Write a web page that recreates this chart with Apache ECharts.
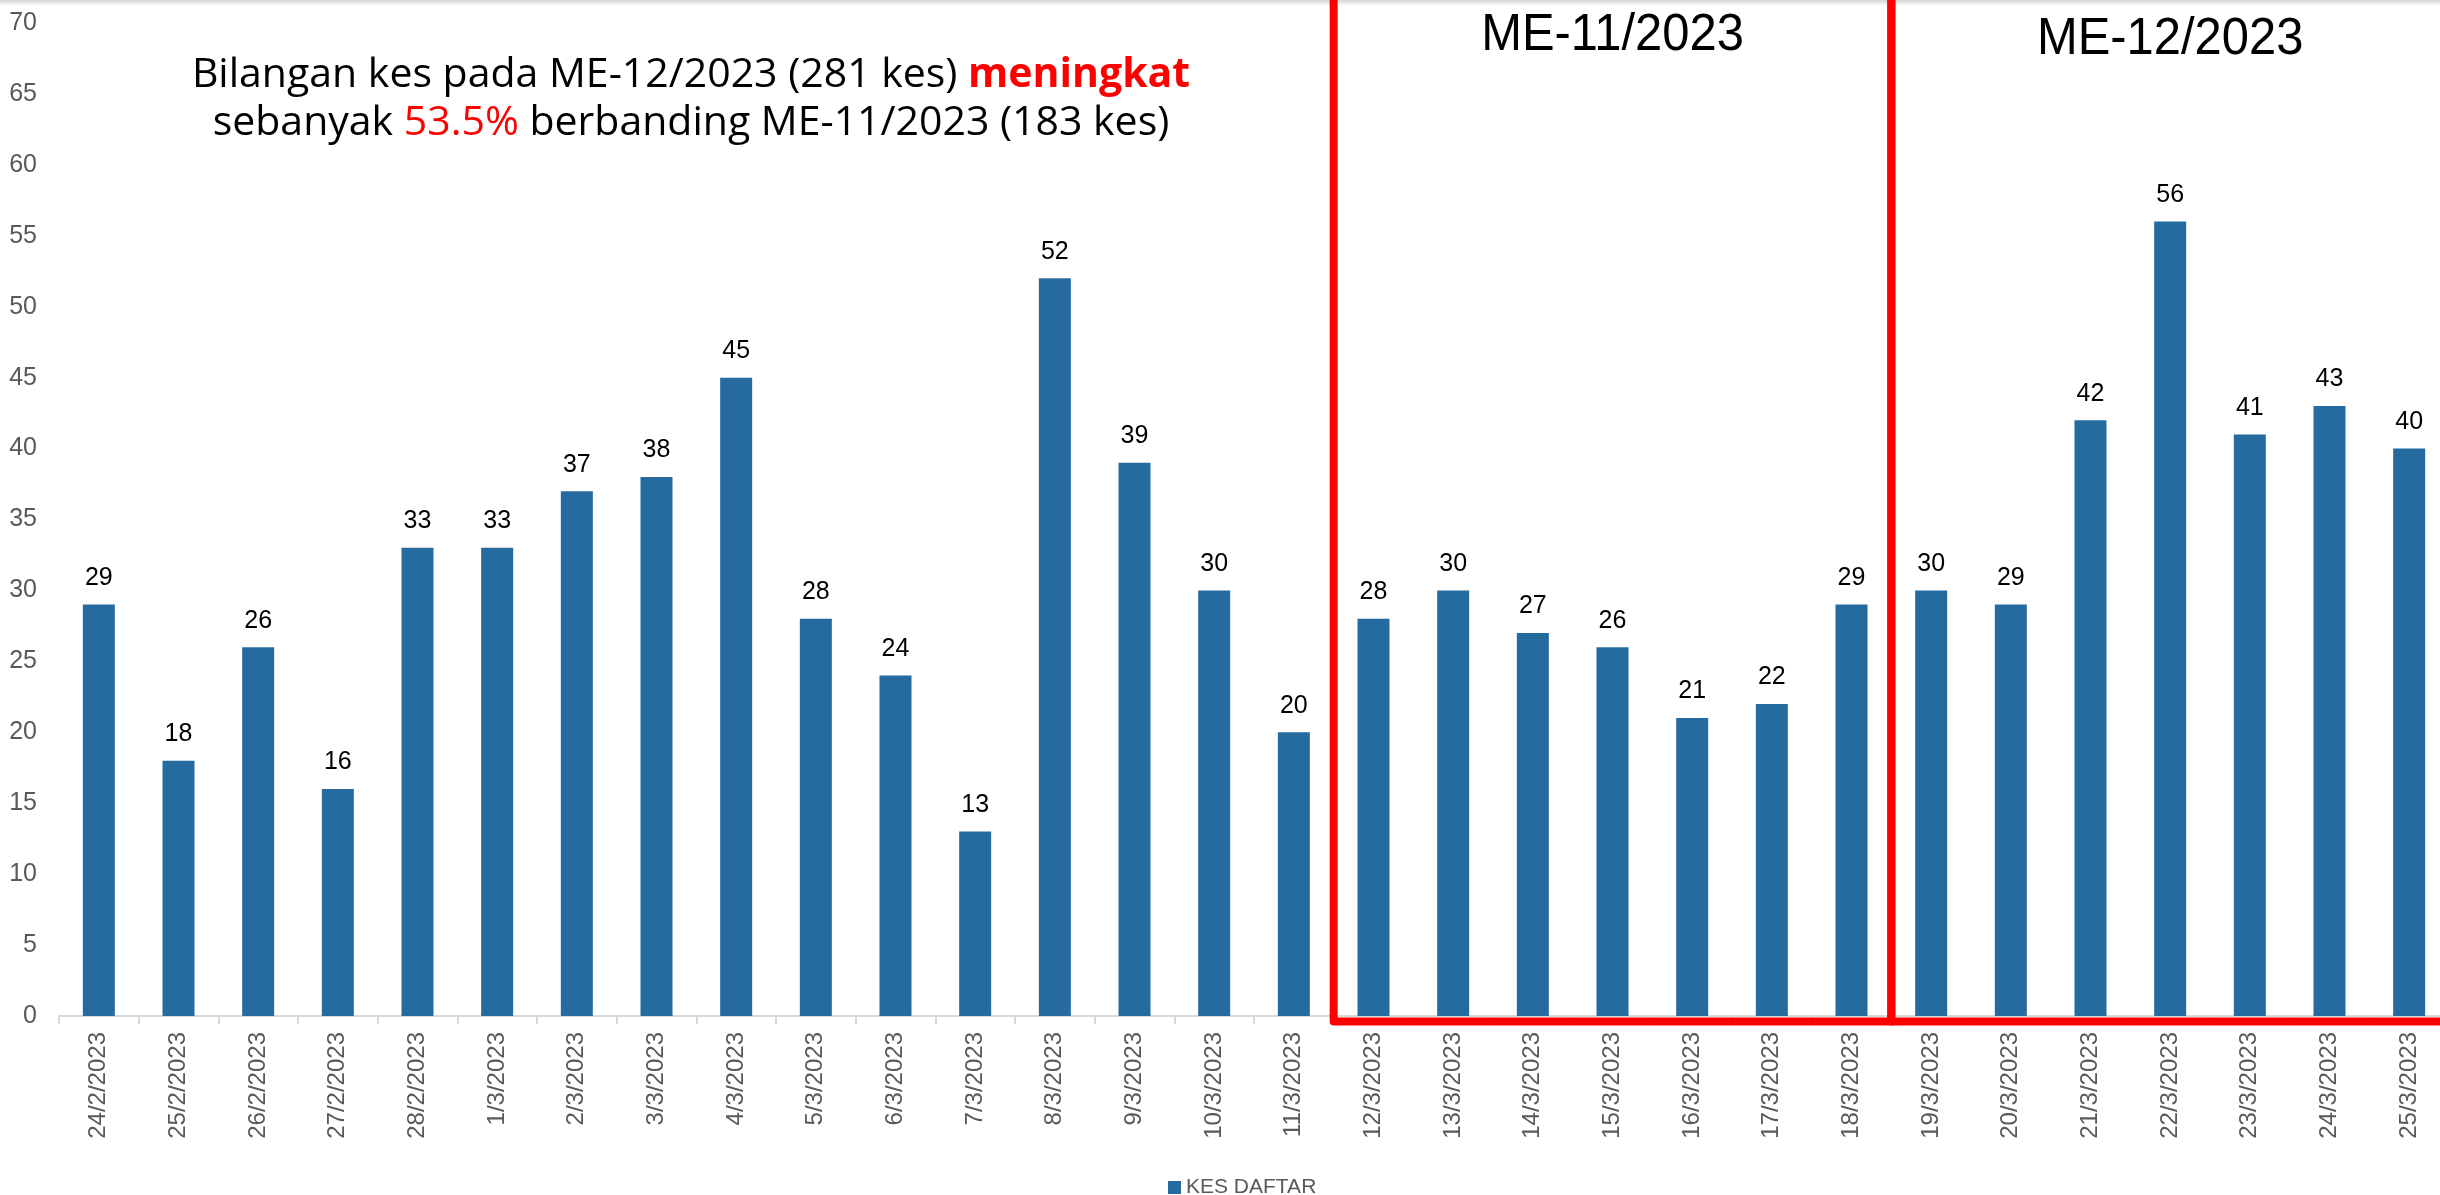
<!DOCTYPE html>
<html>
<head>
<meta charset="utf-8">
<script src="https://cdn.jsdelivr.net/npm/echarts@6/dist/echarts.min.js"></script>
<style>html,body{margin:0;padding:0;background:#fff;}#c{width:2440px;height:1195px;}</style>
</head>
<body>
<div id="c"></div>
<script>
const categories = ['24/2/2023','25/2/2023','26/2/2023','27/2/2023','28/2/2023','1/3/2023','2/3/2023','3/3/2023','4/3/2023','5/3/2023','6/3/2023','7/3/2023','8/3/2023','9/3/2023','10/3/2023','11/3/2023','12/3/2023','13/3/2023','14/3/2023','15/3/2023','16/3/2023','17/3/2023','18/3/2023','19/3/2023','20/3/2023','21/3/2023','22/3/2023','23/3/2023','24/3/2023','25/3/2023'];
const kesDaftar = [29,18,26,16,33,33,37,38,45,28,24,13,52,39,30,20,28,30,27,26,21,22,29,30,29,42,56,41,43,40];
const yTicks = {min: 0, max: 70, interval: 5};
const periods = [
  {label: 'ME-11/2023', from: '12/3/2023', to: '18/3/2023'},
  {label: 'ME-12/2023', from: '19/3/2023', to: '25/3/2023'}
];
const seriesName = 'KES DAFTAR';

const boxBottom = -0.39, boxTop = 72;
const boxData = periods.map(p => [categories.indexOf(p.from) - 0.5, categories.indexOf(p.to) + 0.5]);

const chart = echarts.init(document.getElementById('c'));
chart.setOption({
  animation: false,
  backgroundColor: '#ffffff',
  graphic: [{
    type: 'rect', left: 0, top: 0, silent: true,
    shape: {width: 2440, height: 6},
    style: {fill: new echarts.graphic.LinearGradient(0, 0, 0, 1, [{offset: 0, color: '#d6d6d6'}, {offset: 1, color: '#ffffff'}])}
  }],
  title: {
    left: 686, top: 46, textAlign: 'center',
    text: '{a|Bilangan kes pada ME-12/2023 (281 kes) }{r|meningkat}\n{a|sebanyak }{p|53.5%}{a| berbanding ME-11/2023 (183 kes)}',
    textStyle: {
      rich: {
        a: {fontSize: 41, fontFamily: 'Open Sans', fontWeight: 'normal', color: '#000', lineHeight: 48},
        r: {fontSize: 41, fontFamily: 'Open Sans', color: '#ff0000', fontWeight: 'bold', lineHeight: 48},
        p: {fontSize: 41, fontFamily: 'Open Sans', fontWeight: 'normal', color: '#ff0000', lineHeight: 48}
      }
    }
  },
  legend: {
    data: [seriesName], left: 1163, top: 1172,
    itemWidth: 13, itemHeight: 13, icon: 'rect',
    textStyle: {fontSize: 21, color: '#595959', fontFamily: 'Liberation Sans'}
  },
  grid: {left: 59, right: -9, top: 23, bottom: 179, containLabel: false, outerBoundsMode: 'none'},
  xAxis: [{
    type: 'category', data: categories,
    axisLine: {lineStyle: {color: '#d9d9d9', width: 2}},
    axisTick: {show: true, length: 8, lineStyle: {color: '#d9d9d9', width: 2}},
    axisLabel: {interval: 0, rotate: 90, fontSize: 24, color: '#595959', margin: 16, fontFamily: 'Liberation Sans'}
  }, {
    type: 'value', min: -0.5, max: categories.length - 0.5, show: false
  }],
  yAxis: {
    type: 'value', min: yTicks.min, max: yTicks.max, interval: yTicks.interval,
    axisLine: {show: false}, axisTick: {show: false}, splitLine: {show: false},
    axisLabel: {fontSize: 25, color: '#595959', margin: 22, fontFamily: 'Liberation Sans'}
  },
  series: [{
    name: seriesName, type: 'bar', data: kesDaftar, barWidth: 32,
    itemStyle: {color: '#256ba0'},
    label: {show: true, position: 'top', distance: 14, color: '#000', fontSize: 25, fontFamily: 'Liberation Sans'}
  }, {
    type: 'custom', xAxisIndex: 1, yAxisIndex: 0, clip: false, silent: true,
    encode: {x: [0, 1]},
    data: boxData,
    renderItem: (params, api) => {
      const x0 = api.value(0), x1 = api.value(1);
      const b0 = api.coord([x0, boxBottom]);
      const b1 = api.coord([x1, boxBottom]);
      const t0 = api.coord([x0, boxTop]);
      return {
        type: 'group',
        children: [{
          type: 'polyline',
          shape: {points: [[b0[0], t0[1]], b0, b1, [b1[0], t0[1]]]},
          style: {stroke: '#ff0000', lineWidth: 8, fill: null, lineJoin: 'round'}
        }, {
          type: 'text',
          x: (b0[0] + b1[0]) / 2, y: t0[1] + 41 + params.dataIndex * 4,
          scaleX: 0.94,
          style: {text: periods[params.dataIndex].label, fontSize: 52, fontFamily: 'Liberation Sans', fill: '#000', align: 'center', verticalAlign: 'middle'}
        }]
      };
    }
  }]
});
</script>
</body>
</html>
